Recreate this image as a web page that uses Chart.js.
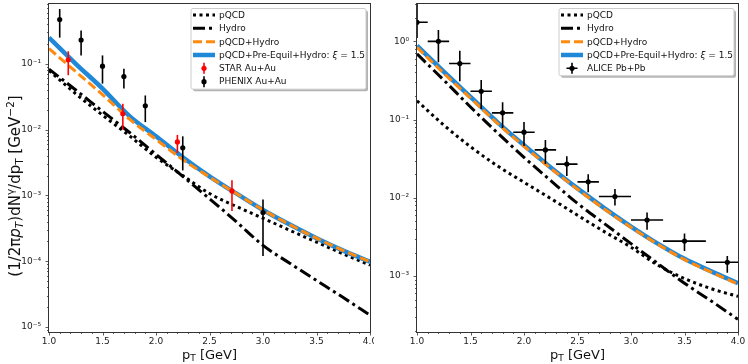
<!DOCTYPE html>
<html>
<head>
<meta charset="utf-8">
<script src="https://cdn.jsdelivr.net/npm/chart.js@4.4.0/dist/chart.umd.min.js"></script>
<style>
body { margin: 0; background: #fff; }
#wrap { position: relative; width: 748px; height: 364px; }
.box { position: absolute; top: 0; width: 374px; height: 364px; }
</style>
</head>
<body>
<div id="wrap">
  <div class="box" style="left:0"><canvas id="chart1"></canvas></div>
  <div class="box" style="left:374px"><canvas id="chart2"></canvas></div>
</div>
<script>
// pT grid of the theory curves
var pT = [1.0, 1.25, 1.5, 1.75, 2.0, 2.25, 2.5, 2.75, 3.0, 3.25, 3.5, 3.75, 4.0];

// RHIC Au+Au (left)
var pqcdRhic  = [0.079, 0.035, 0.0166, 0.0081, 0.0038, 0.0020, 0.00107, 0.00068, 0.00045, 0.000295, 0.000195, 0.000129, 0.000087];
var hydroRhic = [0.083, 0.040, 0.019, 0.0091, 0.0042, 0.00195, 0.00089, 0.00040, 0.000174, 0.000093, 0.000051, 0.000028, 0.0000151];
var sumRhic   = [0.17, 0.076, 0.034, 0.0145, 0.0071, 0.0035, 0.0019, 0.00107, 0.0006, 0.00036, 0.000224, 0.000145, 0.000098];
var preRhic   = [0.25, 0.10, 0.042, 0.0162, 0.0079, 0.0038, 0.00195, 0.00107, 0.0006, 0.00036, 0.000224, 0.000145, 0.000098];

var starX  = [1.18, 1.69, 2.2, 2.71];
var starY  = [0.115, 0.0174, 0.0065, 0.00117];
var starLo = [0.067, 0.010, 0.0044, 0.00058];
var starHi = [0.155, 0.0247, 0.0083, 0.0017];

var phenixX  = [1.1, 1.3, 1.5, 1.7, 1.9, 2.25, 3.0];
var phenixY  = [0.47, 0.23, 0.092, 0.064, 0.023, 0.0053, 0.00055];
var phenixLo = [0.25, 0.134, 0.050, 0.042, 0.013, 0.0024, 0.00012];
var phenixHi = [0.68, 0.32, 0.134, 0.084, 0.033, 0.0079, 0.00087];

// LHC Pb+Pb (right)
var pqcdLhc  = [0.174, 0.085, 0.045, 0.0257, 0.0158, 0.0098, 0.0060, 0.0037, 0.00234, 0.00138, 0.00093, 0.00069, 0.00055];
var hydroLhc = [0.69, 0.32, 0.145, 0.068, 0.033, 0.0166, 0.0085, 0.0047, 0.0026, 0.00145, 0.00081, 0.00048, 0.00028];
var sumLhc   = [0.84, 0.39, 0.188, 0.090, 0.0455, 0.0238, 0.0129, 0.0072, 0.0042, 0.00255, 0.00162, 0.00112, 0.00079];
var preLhc   = [0.88, 0.41, 0.195, 0.093, 0.047, 0.0245, 0.0132, 0.0074, 0.0043, 0.0026, 0.00166, 0.00115, 0.00081];

var aliceX    = [1.0, 1.2, 1.4, 1.6, 1.8, 2.0, 2.2, 2.4, 2.6, 2.85, 3.15, 3.5, 3.9];
var aliceXerr = [0.1, 0.1, 0.1, 0.1, 0.1, 0.1, 0.1, 0.1, 0.1, 0.15, 0.15, 0.2, 0.2];
var aliceY    = [1.75, 1.0, 0.52, 0.23, 0.122, 0.069, 0.041, 0.027, 0.016, 0.0104, 0.0052, 0.0028, 0.0015];
var aliceLo   = [1.1, 0.54, 0.31, 0.137, 0.078, 0.046, 0.027, 0.019, 0.0118, 0.0080, 0.0039, 0.0021, 0.0011];
var aliceHi   = [3.0, 1.40, 0.76, 0.32, 0.167, 0.093, 0.055, 0.034, 0.020, 0.013, 0.0065, 0.0035, 0.0018];

// axis ticks
var xTicks = [1.0, 1.5, 2.0, 2.5, 3.0, 3.5, 4.0];
var yTicksRhic = [1e-5, 1e-4, 1e-3, 1e-2, 1e-1];
var yTicksLhc = [1e-3, 1e-2, 1e-1, 1];

var BLUE = '#1f88d8';
var ORANGE = '#ff8a10';
var FONT = '"DejaVu Sans", sans-serif';

function pts(xs, ys) {
  return xs.map(function(x, i) { return { x: x, y: ys[i] }; });
}

var SUP = { '-': '\u207b', '0': '\u2070', '1': '\u00b9', '2': '\u00b2', '3': '\u00b3', '4': '\u2074', '5': '\u2075' };
function powLabel(v) {
  var e = String(Math.round(Math.log10(v)));
  return '10' + e.split('').map(function(c) { return SUP[c]; }).join('');
}

// draw a list of text runs, returns width
function runs(ctx, x, y, list, measureOnly) {
  var cx = x;
  list.forEach(function(r) {
    ctx.font = (r.italic ? 'italic ' : '') + r.size + 'px ' + FONT;
    if (!measureOnly) ctx.fillText(r.t, cx, y + (r.dy || 0));
    cx += ctx.measureText(r.t).width;
  });
  return cx - x;
}

function lineStyle(ctx, kind) {
  ctx.setLineDash([]);
  ctx.lineCap = 'butt';
  if (kind === 'pqcd') { ctx.strokeStyle = '#000'; ctx.lineWidth = 3; ctx.setLineDash([3, 3.5]); }
  if (kind === 'hydro') { ctx.strokeStyle = '#000'; ctx.lineWidth = 3; ctx.setLineDash([12, 4, 3, 4]); }
  if (kind === 'sum') { ctx.strokeStyle = ORANGE; ctx.lineWidth = 3; ctx.setLineDash([9, 4]); }
  if (kind === 'pre') { ctx.strokeStyle = BLUE; ctx.lineWidth = 4.5; }
}

var decor = {
  id: 'decor',
  beforeDatasetDraw: function(chart, args) {
    var ds = chart.data.datasets[args.index];
    if (!ds.errLo) return;
    var ctx = chart.ctx, xs = chart.scales.x, ys = chart.scales.y, a = chart.chartArea;
    ctx.save();
    ctx.beginPath();
    ctx.rect(a.left, a.top, a.right - a.left, a.bottom - a.top);
    ctx.clip();
    ctx.strokeStyle = ds.pointBackgroundColor;
    ctx.lineWidth = 1.6;
    ds.data.forEach(function(p, i) {
      var px = xs.getPixelForValue(p.x), py = ys.getPixelForValue(p.y);
      ctx.beginPath();
      ctx.moveTo(px, ys.getPixelForValue(ds.errLo[i]));
      ctx.lineTo(px, ys.getPixelForValue(ds.errHi[i]));
      if (ds.errX) {
        ctx.moveTo(xs.getPixelForValue(p.x - ds.errX[i]), py);
        ctx.lineTo(xs.getPixelForValue(p.x + ds.errX[i]), py);
      }
      ctx.stroke();
    });
    ctx.restore();
  },
  afterDraw: function(chart, args, o) {
    var ctx = chart.ctx, a = chart.chartArea, xs = chart.scales.x, ys = chart.scales.y;
    ctx.save();
    // frame
    ctx.strokeStyle = '#333';
    ctx.lineWidth = 1;
    ctx.strokeRect(a.left - 0.5, a.top - 0.5, a.right - a.left + 1, a.bottom - a.top + 1);
    // tick marks
    ctx.lineWidth = 0.8;
    ctx.beginPath();
    for (var t = 10; t <= 40; t++) {
      var px = Math.round(xs.getPixelForValue(t / 10)) + 0.5;
      var len = t % 5 === 0 ? 3.5 : 2;
      ctx.moveTo(px, a.bottom);
      ctx.lineTo(px, a.bottom + len);
    }
    for (var e = -6; e <= 1; e++) {
      for (var k = 1; k <= 9; k++) {
        var v = k * Math.pow(10, e);
        if (v < ys.min || v > ys.max) continue;
        var py = Math.round(ys.getPixelForValue(v)) + 0.5;
        var l2 = k === 1 ? 3.5 : 2;
        ctx.moveTo(a.left, py);
        ctx.lineTo(a.left - l2, py);
      }
    }
    ctx.stroke();

    // axis titles
    ctx.fillStyle = '#111';
    ctx.textBaseline = 'alphabetic';
    var xt = [
      { t: 'p', size: 13 }, { t: 'T', size: 9, dy: 2.5 }, { t: ' [GeV]', size: 13 }
    ];
    var w = runs(ctx, 0, 0, xt, true);
    runs(ctx, (a.left + a.right) / 2 - w / 2, 358.5, xt);

    if (o.yTitle) {
      var yt = [
        { t: '(1/2\u03c0', size: 15 }, { t: 'p', size: 15, italic: true }, { t: 'T', size: 10.5, italic: true, dy: 3 },
        { t: ')dN', size: 15 }, { t: '\u03b3', size: 10.5, dy: -6.5 }, { t: '/dp', size: 15 }, { t: 'T', size: 10.5, dy: 3 },
        { t: ' [GeV', size: 15 }, { t: '\u22122', size: 10.5, dy: -6.5 }, { t: ']', size: 15 }
      ];
      var wy = runs(ctx, 0, 0, yt, true);
      ctx.save();
      ctx.translate(20, (a.top + a.bottom) / 2 + wy / 2 + 18);
      ctx.rotate(-Math.PI / 2);
      runs(ctx, 0, 0, yt);
      ctx.restore();
    }

    // legend
    var items = o.items;
    var bw = 175, bx = a.right - 4 - bw, by = 8.5;
    var rowH = 13.33;
    var bh = 13 + rowH * (items.length - 1) + 1;
    ctx.fillStyle = 'rgba(0,0,0,0.3)';
    ctx.beginPath();
    ctx.roundRect(bx + 2, by + 2, bw, bh, 2);
    ctx.fill();
    ctx.fillStyle = '#fff';
    ctx.strokeStyle = '#ccc';
    ctx.lineWidth = 1;
    ctx.beginPath();
    ctx.roundRect(bx, by, bw, bh, 2);
    ctx.fill();
    ctx.stroke();
    items.forEach(function(it, i) {
      var cy = by + 6.5 + i * rowH;
      var hx0 = bx + 2, hx1 = bx + 24;
      ctx.save();
      if (it.kind === 'pts') {
        ctx.strokeStyle = it.color;
        ctx.fillStyle = it.color;
        ctx.lineWidth = 1.6;
        ctx.beginPath();
        ctx.moveTo((hx0 + hx1) / 2, cy - 5.5);
        ctx.lineTo((hx0 + hx1) / 2, cy + 5.5);
        if (it.cross) {
          ctx.moveTo((hx0 + hx1) / 2 - 5.5, cy);
          ctx.lineTo((hx0 + hx1) / 2 + 5.5, cy);
        }
        ctx.stroke();
        ctx.beginPath();
        ctx.arc((hx0 + hx1) / 2, cy, 2.6, 0, Math.PI * 2);
        ctx.fill();
      } else {
        lineStyle(ctx, it.kind);
        ctx.beginPath();
        ctx.moveTo(hx0, cy);
        ctx.lineTo(hx1, cy);
        ctx.stroke();
      }
      ctx.restore();
      ctx.fillStyle = '#111';
      ctx.textBaseline = 'middle';
      var lab = it.math ? [{ t: it.label, size: 9 }, { t: '\u03be', size: 9, italic: true }, { t: ' = 1.5', size: 9 }] : [{ t: it.label, size: 9 }];
      runs(ctx, bx + 28, cy + 0.5, lab);
    });
    ctx.restore();
  }
};

function curve(label, xs, ys, kind, order) {
  var d = {
    label: label,
    data: pts(xs, ys),
    borderColor: '#000',
    borderWidth: 3,
    pointRadius: 0,
    fill: false,
    cubicInterpolationMode: 'monotone',
    order: order
  };
  if (kind === 'pqcd') { d.borderDash = [3, 3.5]; }
  if (kind === 'hydro') { d.borderDash = [12, 4, 3, 4]; }
  if (kind === 'sum') { d.borderColor = ORANGE; d.borderDash = [9, 4]; }
  if (kind === 'pre') { d.borderColor = BLUE; d.borderWidth = 4.5; }
  return d;
}

function points(label, xs, ys, lo, hi, color, xerr) {
  return {
    label: label,
    data: pts(xs, ys),
    showLine: false,
    pointRadius: 2.6,
    pointBorderWidth: 0,
    pointBackgroundColor: color,
    borderColor: color,
    errLo: lo,
    errHi: hi,
    errX: xerr,
    order: 0
  };
}

function makeChart(id, datasets, yMin, yMax, yTicks, yWidth, padRight, legendItems, yTitle) {
  var ctx = document.getElementById(id).getContext('2d');
  return new Chart(ctx, {
    type: 'line',
    data: { datasets: datasets },
    plugins: [decor],
    options: {
      responsive: true,
      maintainAspectRatio: false,
      animation: false,
      layout: { padding: { left: 0, right: padRight, top: 3, bottom: 0 } },
      plugins: {
        legend: { display: false },
        tooltip: { enabled: false },
        decor: { items: legendItems, yTitle: yTitle }
      },
      scales: {
        x: {
          type: 'linear',
          min: 1,
          max: 4,
          afterFit: function(s) { s.height = 32; s.paddingLeft = 0; s.paddingRight = 0; },
          afterBuildTicks: function(s) { s.ticks = xTicks.map(function(v) { return { value: v }; }); },
          grid: { display: false, drawTicks: false },
          border: { display: false },
          ticks: {
            padding: 4,
            maxRotation: 0,
            autoSkip: false,
            color: '#222',
            font: { size: 9, family: 'DejaVu Sans' },
            callback: function(v) { return Number(v).toFixed(1); }
          }
        },
        y: {
          type: 'logarithmic',
          min: yMin,
          max: yMax,
          afterFit: function(s) { s.width = yWidth; s.paddingTop = 0; s.paddingBottom = 0; },
          afterBuildTicks: function(s) { s.ticks = yTicks.map(function(v) { return { value: v }; }); },
          grid: { display: false, drawTicks: false },
          border: { display: false },
          ticks: {
            padding: 8,
            autoSkip: false,
            color: '#222',
            font: { size: 9, family: 'DejaVu Sans' },
            callback: function(v) { return powLabel(v); }
          }
        }
      }
    }
  });
}

// chart1: RHIC
makeChart('chart1', [
  points('STAR Au+Au', starX, starY, starLo, starHi, '#ff0000'),
  points('PHENIX Au+Au', phenixX, phenixY, phenixLo, phenixHi, '#000000'),
  curve('pQCD+Hydro', pT, sumRhic, 'sum', 1),
  curve('pQCD+Pre-Equil+Hydro', pT, preRhic, 'pre', 2),
  curve('Hydro', pT, hydroRhic, 'hydro', 3),
  curve('pQCD', pT, pqcdRhic, 'pqcd', 4)
], 8.4e-6, 0.81, yTicksRhic, 49, 3, [
  { kind: 'pqcd', label: 'pQCD' },
  { kind: 'hydro', label: 'Hydro' },
  { kind: 'sum', label: 'pQCD+Hydro' },
  { kind: 'pre', label: 'pQCD+Pre-Equil+Hydro: ', math: true },
  { kind: 'pts', label: 'STAR Au+Au', color: '#ff0000' },
  { kind: 'pts', label: 'PHENIX Au+Au', color: '#000000' }
], true);

// chart2: LHC
makeChart('chart2', [
  points('ALICE Pb+Pb', aliceX, aliceY, aliceLo, aliceHi, '#000000', aliceXerr),
  curve('pQCD+Hydro', pT, sumLhc, 'sum', 1),
  curve('pQCD+Pre-Equil+Hydro', pT, preLhc, 'pre', 2),
  curve('Hydro', pT, hydroLhc, 'hydro', 3),
  curve('pQCD', pT, pqcdLhc, 'pqcd', 4)
], 1.93e-4, 3.0, yTicksLhc, 43, 10, [
  { kind: 'pqcd', label: 'pQCD' },
  { kind: 'hydro', label: 'Hydro' },
  { kind: 'sum', label: 'pQCD+Hydro' },
  { kind: 'pre', label: 'pQCD+Pre-Equil+Hydro: ', math: true },
  { kind: 'pts', label: 'ALICE Pb+Pb', color: '#000000', cross: true }
], false);
</script>
</body>
</html>
